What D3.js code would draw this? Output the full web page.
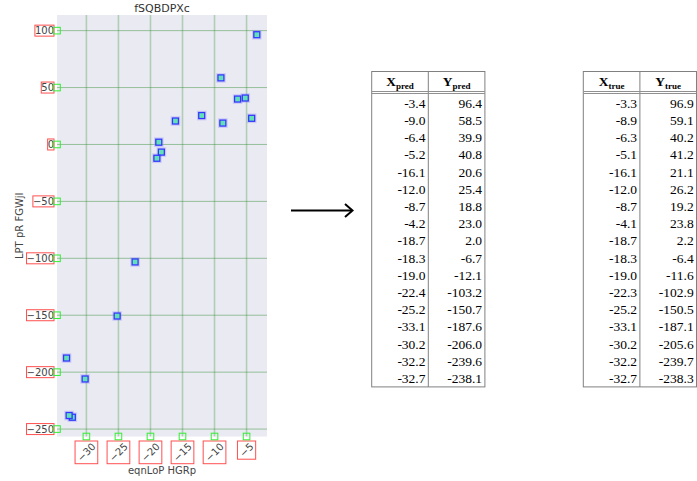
<!DOCTYPE html>
<html>
<head>
<meta charset="utf-8">
<script src="https://cdn.jsdelivr.net/npm/d3@7"></script>
<style>
  html, body { margin: 0; padding: 0; background: #ffffff; }
  svg { display: block; }
</style>
</head>
<body>
<svg id="chart" width="697" height="481"></svg>
<script>
// ---- data ----
const xPred = [-3.4, -9.0, -6.4, -5.2, -16.1, -12.0, -8.7, -4.2, -18.7, -18.3, -19.0, -22.4, -25.2, -33.1, -30.2, -32.2, -32.7];
const yPred = [96.4, 58.5, 39.9, 40.8, 20.6, 25.4, 18.8, 23.0, 2.0, -6.7, -12.1, -103.2, -150.7, -187.6, -206.0, -239.6, -238.1];
const xTrue = [-3.3, -8.9, -6.3, -5.1, -16.1, -12.0, -8.7, -4.1, -18.7, -18.3, -19.0, -22.3, -25.2, -33.1, -30.2, -32.2, -32.7];
const yTrue = [96.9, 59.1, 40.2, 41.2, 21.1, 26.2, 19.2, 23.8, 2.2, -6.4, -11.6, -102.9, -150.5, -187.1, -205.6, -239.7, -238.3];
const xTicks = [-30, -25, -20, -15, -10, -5];
const yTicks = [100, 50, 0, -50, -100, -150, -200, -250];
const chartTitle = "fSQBDPXc";
const xLabel = "eqnLoP HGRp";
const yLabel = "LPT pR FGWjI";

const svg = d3.select("#chart");
const plot = { left: 57, right: 267, top: 15, bottom: 436.5 };

function padExtent(vals) {
  const [a, b] = d3.extent(vals);
  const m = (b - a) * 0.05;
  return [a - m, b + m];
}
const x = d3.scaleLinear().domain(padExtent(xPred.concat(xTrue))).range([plot.left, plot.right]);
const y = d3.scaleLinear().domain(padExtent(yPred.concat(yTrue))).range([plot.bottom, plot.top]);
const fmt = d3.format("d");

// background
svg.append("rect")
  .attr("x", plot.left).attr("y", plot.top)
  .attr("width", plot.right - plot.left).attr("height", plot.bottom - plot.top)
  .attr("fill", "#eaeaf2");

// grid
const grid = svg.append("g");
grid.selectAll("line.v").data(xTicks).join("line")
  .attr("x1", d => x(d)).attr("x2", d => x(d))
  .attr("y1", plot.top).attr("y2", plot.bottom)
  .attr("stroke", "#2e8b2e").attr("stroke-opacity", 0.3).attr("stroke-width", 1.6);
grid.selectAll("line.h").data(yTicks).join("line")
  .attr("x1", plot.left).attr("x2", plot.right)
  .attr("y1", d => y(d)).attr("y2", d => y(d))
  .attr("stroke", "#2e8b2e").attr("stroke-opacity", 0.45).attr("stroke-width", 1);

// points
const pts = d3.range(xPred.length);
const mk = svg.append("g");
mk.selectAll("rect.halo").data(pts).join("rect")
  .attr("x", i => x(xPred[i]) - 4.2).attr("y", i => y(yPred[i]) - 4.2)
  .attr("width", 8.4).attr("height", 8.4)
  .attr("fill", "none").attr("stroke", "#8080ff").attr("stroke-opacity", 0.3).attr("stroke-width", 1.2);
mk.selectAll("rect.pt").data(pts).join("rect")
  .attr("x", i => x(xPred[i]) - 3).attr("y", i => y(yPred[i]) - 3)
  .attr("width", 6).attr("height", 6)
  .attr("fill", "#62e2b4").attr("stroke", "#3535ff").attr("stroke-width", 1.3);

// y ticks
const yt = svg.append("g").attr("font-family", "DejaVu Sans").attr("font-size", 10).attr("fill", "#444");
yTicks.forEach(t => {
  const ty = y(t);
  const txt = yt.append("text").attr("x", 54).attr("y", ty).attr("dy", "0.35em")
    .attr("text-anchor", "end").text(fmt(t));
  const bb = txt.node().getBBox();
  yt.append("rect").attr("x", bb.x).attr("y", bb.y).attr("width", bb.width).attr("height", bb.height)
    .attr("fill", "none").attr("stroke", "#ff3030").attr("stroke-opacity", 0.85).attr("stroke-width", 1);
  yt.append("rect").attr("x", plot.left - 3.3).attr("y", ty - 3.3).attr("width", 6.6).attr("height", 6.6)
    .attr("fill", "none").attr("stroke", "#33ee33").attr("stroke-width", 1);
});

// x ticks
const xt = svg.append("g").attr("font-family", "DejaVu Sans").attr("font-size", 10).attr("fill", "#444");
xTicks.forEach(t => {
  const tx = x(t);
  const g = xt.append("g");
  const txt = g.append("text").attr("text-anchor", "middle").attr("dy", "0.35em").text(fmt(t));
  const bb = txt.node().getBBox();
  const W = (bb.width + bb.height) * Math.SQRT1_2;
  const top = 441;
  g.attr("transform", `translate(${tx},${top + W / 2}) rotate(-45)`);
  xt.append("rect").attr("x", tx - W / 2).attr("y", top).attr("width", W).attr("height", W)
    .attr("fill", "none").attr("stroke", "#ff3030").attr("stroke-opacity", 0.85).attr("stroke-width", 1);
  xt.append("rect").attr("x", tx - 3.3).attr("y", plot.bottom - 3.3).attr("width", 6.6).attr("height", 6.6)
    .attr("fill", "none").attr("stroke", "#33ee33").attr("stroke-width", 1);
});

// title & labels
svg.append("text").attr("x", (plot.left + plot.right) / 2).attr("y", 12)
  .attr("text-anchor", "middle").attr("font-family", "DejaVu Sans").attr("font-size", 11)
  .attr("fill", "#333").text(chartTitle);
svg.append("text").attr("x", (plot.left + plot.right) / 2).attr("y", 474)
  .attr("text-anchor", "middle").attr("font-family", "DejaVu Sans").attr("font-size", 10)
  .attr("fill", "#444").text(xLabel);
svg.append("text").attr("transform", `translate(23,${(plot.top + plot.bottom) / 2}) rotate(-90)`)
  .attr("text-anchor", "middle").attr("font-family", "DejaVu Sans").attr("font-size", 10)
  .attr("fill", "#444").text(yLabel);

// arrow
svg.append("path").attr("d", d3.line()([[291, 210.5], [352, 210.5]]))
  .attr("stroke", "#000").attr("stroke-width", 2).attr("fill", "none");
svg.append("path").attr("d", d3.line()([[345, 204], [352.5, 210.5], [345, 217]]))
  .attr("stroke", "#000").attr("stroke-width", 2).attr("fill", "none");

// tables
function drawTable(x0, xs, ys, sub) {
  const colW = 56.6, rowH = 17.2, top = 71.5, headB = 91.5, rowTop = 94.5;
  const n = xs.length;
  const bottom = rowTop + n * rowH;
  const g = svg.append("g");
  g.append("rect").attr("x", x0).attr("y", top).attr("width", colW * 2).attr("height", bottom - top)
    .attr("fill", "#fff").attr("stroke", "#808080").attr("stroke-width", 1);
  g.append("line").attr("x1", x0 + colW).attr("x2", x0 + colW).attr("y1", top).attr("y2", bottom)
    .attr("stroke", "#808080").attr("stroke-width", 1);
  [headB, headB + 2].forEach(yy => g.append("line").attr("x1", x0).attr("x2", x0 + colW * 2)
    .attr("y1", yy).attr("y2", yy).attr("stroke", "#909090").attr("stroke-width", 1));
  ["X", "Y"].forEach((h, c) => {
    const t = g.append("text").attr("x", x0 + colW * c + colW / 2).attr("y", 86)
      .attr("text-anchor", "middle").attr("font-family", "Liberation Serif").attr("font-weight", "bold")
      .attr("fill", "#000");
    t.append("tspan").attr("font-size", 13.5).text(h);
    t.append("tspan").attr("font-size", 9).attr("dy", 2.5).text(sub);
  });
  const f = d3.format(".1f");
  const cols = [xs, ys];
  cols.forEach((vals, c) => {
    g.selectAll(null).data(vals).join("text")
      .attr("x", x0 + colW * (c + 1) - 2.8)
      .attr("y", (d, i) => rowTop + i * rowH + rowH / 2)
      .attr("dy", "0.35em").attr("text-anchor", "end")
      .attr("font-family", "Liberation Serif").attr("font-size", 13.5).attr("fill", "#000")
      .text(d => f(d).replace("−", "-"));
  });
}
drawTable(371.7, xPred, yPred, "pred");
drawTable(583.3, xTrue, yTrue, "true");
</script>
</body>
</html>
